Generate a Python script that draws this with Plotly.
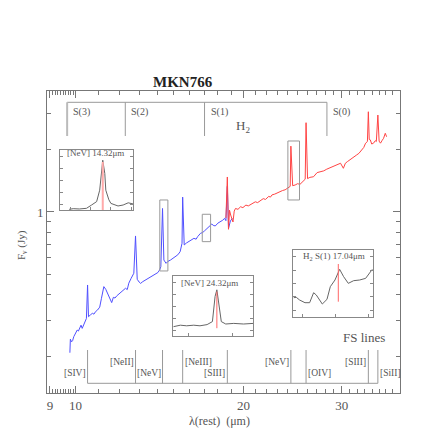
import math
import plotly.graph_objects as go

# ---------------- data ----------------
blue_wl = [9.77, 9.79, 9.84, 9.88, 9.93, 10.0, 10.07, 10.12, 10.18, 10.23, 10.28, 10.33, 10.38,
           10.46, 10.51, 10.55, 10.63, 10.72, 10.79, 10.86, 10.95, 11.05, 11.13, 11.24, 11.33,
           11.45, 11.53, 11.61, 11.69, 11.77, 11.85, 11.95, 12.04, 12.15, 12.29, 12.38, 12.46,
           12.58, 12.72, 12.81, 12.90, 13.0, 13.08, 13.2, 13.35, 13.5, 13.63, 13.78, 13.91,
           14.05, 14.15, 14.22, 14.32, 14.40, 14.53, 14.65, 14.80, 14.95, 15.10, 15.25, 15.40,
           15.52, 15.56, 15.66, 15.8, 15.95, 16.1, 16.30, 16.45, 16.55, 16.75, 16.9, 17.04,
           17.15, 17.30, 17.45, 17.55, 17.65, 17.80, 18.0, 18.20, 18.35, 18.50, 18.60, 18.71,
           18.80, 18.95, 19.10]
blue_flux = [0.209, 0.243, 0.236, 0.239, 0.250, 0.262, 0.269, 0.266, 0.279, 0.284, 0.274, 0.283,
             0.288, 0.306, 0.444, 0.312, 0.318, 0.324, 0.321, 0.330, 0.336, 0.347, 0.383, 0.436,
             0.423, 0.397, 0.387, 0.365, 0.387, 0.384, 0.393, 0.401, 0.408, 0.414, 0.428, 0.422,
             0.453, 0.478, 0.506, 0.766, 0.473, 0.459, 0.452, 0.461, 0.469, 0.476, 0.484, 0.492,
             0.502, 0.510, 0.525, 0.544, 1.040, 0.586, 0.565, 0.578, 0.586, 0.598, 0.608, 0.621,
             0.643, 0.706, 1.180, 0.693, 0.708, 0.719, 0.731, 0.746, 0.739, 0.760, 0.789, 0.796,
             0.812, 0.826, 0.849, 0.861, 0.875, 0.862, 0.856, 0.884, 0.898, 0.912, 0.932, 0.908,
             1.330, 0.834, 0.905, 0.932]

red_wl = [18.60, 18.71, 18.80, 18.88, 18.97, 19.05, 19.15, 19.25, 19.35, 19.55, 19.76, 19.95,
          20.2, 20.4, 20.6, 20.8, 21.0, 21.2, 21.46, 21.7, 21.9, 22.2, 22.35, 22.5, 22.75,
          23.0, 23.25, 23.5, 23.75, 24.0, 24.25, 24.32, 24.5, 24.75, 25.0, 25.25, 25.5, 25.8,
          25.89, 26.05, 26.3, 26.7, 27.1, 27.5, 27.85, 28.2, 28.6, 29.0, 29.4, 29.85, 30.2,
          30.45, 30.7, 31.1, 31.5, 31.85, 32.2, 32.6, 32.85, 33.1, 33.35, 33.48, 33.6, 33.75,
          33.95, 34.2, 34.45, 34.6, 34.82, 35.0, 35.2, 35.45, 35.65, 35.9, 36.1]
red_flux = [0.935, 1.476, 0.825, 1.02, 0.967, 0.93, 0.895, 1.01, 1.04, 1.03, 1.06, 1.05,
            1.08, 1.07, 1.09, 1.10, 1.12, 1.11, 1.14, 1.16, 1.15, 1.19, 1.18, 1.21, 1.22,
            1.24, 1.25, 1.27, 1.28, 1.30, 1.33, 2.08, 1.34, 1.35, 1.37, 1.36, 1.39, 1.44,
            2.70, 1.45, 1.47, 1.48, 1.55, 1.566, 1.58, 1.61, 1.64, 1.655, 1.69, 1.72, 1.626,
            1.72, 1.75, 1.80, 1.85, 1.88, 1.92, 1.99, 2.05, 2.15, 2.19, 3.05, 2.24, 2.23,
            2.13, 2.15, 2.21, 2.19, 2.94, 2.20, 2.15, 2.22, 2.27, 2.40, 2.31]

h2_wl = [9.66, 12.28, 17.03, 28.22]
h2_labels = ["S(3)", "S(2)", "S(1)", "S(0)"]

fs_wl = [10.51, 12.81, 14.32, 15.56, 18.71, 24.32, 25.89, 33.48, 34.82]
fs_labels = ["[SIV]", "[NeII]", "[NeV]", "[NeIII]", "[SIII]", "[NeV]", "[OIV]", "[SIII]", "[SiII]"]
fs_side = ["left", "left", "left", "right", "left", "left", "right", "left", "right"]
fs_high = [False, True, False, True, False, True, False, True, False]

x_tick_vals = [9, 10, 20, 30]
x_tick_text = ["9", "10", "20", "30"]
x_minor_vals = [9.1, 9.2, 9.3, 9.4, 9.5, 9.6, 9.7, 9.8, 9.9, 11, 12, 13, 14, 15, 16, 17, 18, 19,
                21, 22, 23, 24, 25, 26, 27, 28, 29, 31, 32, 33, 34, 35, 36, 37, 38]
y_tick_vals = [1]
y_tick_text = ["1"]
y_minor_vals = [0.2, 0.3, 0.4, 0.5, 0.6, 0.7, 0.8, 0.9, 2, 3]

# insets
in1_wl = [13.99, 14.03, 14.09, 14.16, 14.21, 14.26, 14.29, 14.31, 14.32, 14.34, 14.35, 14.38,
          14.40, 14.47, 14.52, 14.57, 14.62]
in1_f = [0.011, 0.022, 0.017, 0.028, 0.083, 0.14, 0.33, 0.61, 0.83, 0.61, 0.33, 0.17,
         0.11, 0.067, 0.083, 0.12, 0.10]
in2_wl = [23.83, 23.91, 23.98, 24.06, 24.13, 24.21, 24.27, 24.28, 24.30, 24.32, 24.33, 24.35,
          24.37, 24.42, 24.51, 24.62, 24.73]
in2_f = [0.155, 0.18, 0.17, 0.18, 0.17, 0.19, 0.24, 0.38, 0.66, 0.77, 0.66, 0.38,
         0.24, 0.20, 0.21, 0.20, 0.21]
in3_wl = [16.37, 16.41, 16.46, 16.54, 16.61, 16.67, 16.71, 16.76, 16.80, 16.87, 16.92, 16.99,
          17.04, 17.06, 17.12, 17.19, 17.27, 17.36, 17.45, 17.52, 17.55]
in3_f = [0.285, 0.29, 0.25, 0.21, 0.21, 0.36, 0.325, 0.25, 0.19, 0.26, 0.45, 0.55,
         0.65, 0.71, 0.60, 0.50, 0.54, 0.55, 0.575, 0.675, 0.71]

# ---------------- figure ----------------
SERIF = "Liberation Serif, Times New Roman, serif"
GRAY = "#777777"
TXT = "#555555"

fig = go.Figure()
fig.add_trace(go.Scatter(x=blue_wl, y=blue_flux, mode="lines",
                         line=dict(color="#5050ff", width=1), xaxis="x", yaxis="y"))
fig.add_trace(go.Scatter(x=red_wl, y=red_flux, mode="lines",
                         line=dict(color="#ff4444", width=1), xaxis="x", yaxis="y"))

# inset traces
fig.add_trace(go.Scatter(x=in1_wl, y=in1_f, mode="lines", line=dict(color="#666", width=1),
                         xaxis="x2", yaxis="y2"))
fig.add_trace(go.Scatter(x=[14.32, 14.32], y=[-0.05, 0.80], mode="lines",
                         line=dict(color="#ffaaaa", width=2), xaxis="x2", yaxis="y2"))
fig.add_trace(go.Scatter(x=in2_wl, y=in2_f, mode="lines", line=dict(color="#666", width=1),
                         xaxis="x3", yaxis="y3"))
fig.add_trace(go.Scatter(x=[24.32, 24.32], y=[0.13, 0.74], mode="lines",
                         line=dict(color="#ff6666", width=1), xaxis="x3", yaxis="y3"))
fig.add_trace(go.Scatter(x=in3_wl, y=in3_f, mode="lines", line=dict(color="#666", width=1),
                         xaxis="x4", yaxis="y4"))
fig.add_trace(go.Scatter(x=[17.04, 17.04], y=[0.225, 0.79], mode="lines",
                         line=dict(color="#ff6666", width=1), xaxis="x4", yaxis="y4"))

# page body adds an 8px offset; figure size reduced to compensate
OFF = 8
FIG = 436 - OFF
PL, PR, PT, PB = 47, 400, 91, 393        # plot frame in window pixels
L, T = PL - OFF, PT - OFF
R, B = FIG + OFF - PR, FIG + OFF - PB
W = PR - PL
H = PB - PT


def px(xp):
    return (xp - PL) / W


def py(yp):
    return (PB - yp) / H


axis_common = dict(showline=True, linecolor=GRAY, mirror="ticks", ticks="inside",
                   tickcolor=GRAY, showgrid=False, zeroline=False)

fig.update_layout(
    width=FIG, height=FIG, margin=dict(l=L, r=R, t=T, b=B),
    paper_bgcolor="white", plot_bgcolor="rgba(0,0,0,0)", showlegend=False,
    font=dict(family=SERIF, color=TXT, size=12),
    xaxis=dict(type="log", range=[0.9489, 1.5815], tickvals=x_tick_vals, ticktext=x_tick_text,
               ticklen=7, tickfont=dict(size=13, color=TXT),
               minor=dict(tickvals=x_minor_vals, ticklen=4, ticks="inside", tickcolor=GRAY),
               **axis_common),
    yaxis=dict(type="log", range=[-0.8744, 0.5845], tickvals=y_tick_vals, ticktext=y_tick_text,
               ticklen=7, tickfont=dict(size=13, color=TXT),
               minor=dict(tickvals=y_minor_vals, ticklen=4, ticks="inside", tickcolor=GRAY),
               **axis_common),
)

inset_axes = [
    ("2", [13.90, 14.62], [0, 1.0], [px(60), px(133.3)], [py(210), py(150)]),
    ("3", [23.83, 24.73], [0, 1.0], [px(173.3), px(253.3)], [py(336), py(276)]),
    ("4", [16.365, 17.565], [0, 1.0], [px(293.3), px(373.3)], [py(316.7), py(250)]),
]
for n, xr, yr, xd, yd in inset_axes:
    fig.update_layout(**{
        f"xaxis{n}": dict(domain=xd, range=xr, anchor=f"y{n}", showticklabels=False,
                          ticklen=3, nticks=4, showline=True, linecolor="#888", mirror=True,
                          ticks="inside", tickcolor="#888", showgrid=False, zeroline=False),
        f"yaxis{n}": dict(domain=yd, range=yr, anchor=f"x{n}", showticklabels=False,
                          ticklen=3, dtick=0.2, tick0=0.1, showline=True, linecolor="#888",
                          mirror="ticks", ticks="inside", tickcolor="#888", showgrid=False,
                          zeroline=False),
    })

shapes = []
# zoom boxes on the spectrum
for x0, x1, y0, y1 in [(14.16, 14.64, 0.519, 1.143), (16.87, 17.46, 0.719, 0.975),
                       (24.02, 25.2, 1.143, 2.203)]:
    shapes.append(dict(type="rect", xref="x", yref="y", x0=x0, x1=x1, y0=y0, y1=y1,
                       line=dict(color="#999", width=1)))

# H2 bracket
hy_top, hy_bot = py(102.3), py(136)
shapes.append(dict(type="line", xref="x", yref="paper", x0=h2_wl[0], x1=h2_wl[-1],
                   y0=hy_top, y1=hy_top, line=dict(color="#999", width=1)))
for i, w in enumerate(h2_wl):
    shapes.append(dict(type="line", xref="x", yref="paper", x0=w, x1=w, y0=hy_top, y1=hy_bot,
                       line=dict(color="#bbb" if i == 0 else "#999", width=2 if i == 0 else 1)))

# FS bracket
fy_bot, fy_top = py(383.3), py(350)
shapes.append(dict(type="line", xref="x", yref="paper", x0=fs_wl[0], x1=fs_wl[-1],
                   y0=fy_bot, y1=fy_bot, line=dict(color="#999", width=1)))
for w in fs_wl:
    shapes.append(dict(type="line", xref="x", yref="paper", x0=w, x1=w, y0=fy_bot, y1=fy_top,
                       line=dict(color="#999", width=1)))
fig.update_layout(shapes=shapes)


def note(x, y, text, size, color=TXT, xanchor="center", xref="paper", yref="paper", **kw):
    return dict(x=x, y=y, xref=xref, yref=yref, text=text, showarrow=False,
                xanchor=xanchor, yanchor="middle", font=dict(size=size, color=color), **kw)


ann = []
for w, lab in zip(h2_wl, h2_labels):
    ann.append(note(math.log10(w), py(111.7), lab, 10, xanchor="left", xref="x", xshift=4))
ann.append(note(px(243), py(126.7), "H<sub>2</sub>", 13))
for w, lab, side, hi in zip(fs_wl, fs_labels, fs_side, fs_high):
    ann.append(note(math.log10(w), py(361.5) if hi else py(372.5), lab, 9.5,
                    xanchor="right" if side == "left" else "left", xref="x",
                    xshift=-1 if side == "left" else 1, borderpad=0))
ann.append(note(px(364), py(337.7), "FS lines", 13))
ann.append(note(px(183), py(82), "<b>MKN766</b>", 15, color="#222"))
ann.append(note(px(219), py(421), "λ(rest)  (μm)", 12))
ann.append(note(px(22), py(245), "F<sub>ν</sub> (Jy)", 11, textangle=-90))
# inset titles
ann.append(note(0.49, 0.945, "[NeV] 14.32μm", 9, xref="x2 domain", yref="y2 domain"))
ann.append(note(0.45, 0.883, "[NeV] 24.32μm", 9, xref="x3 domain", yref="y3 domain"))
ann.append(note(0.51, 0.90, "H<sub>2</sub> S(1) 17.04μm", 9, xref="x4 domain", yref="y4 domain"))
fig.update_layout(annotations=ann)

fig.write_html("out.html")
